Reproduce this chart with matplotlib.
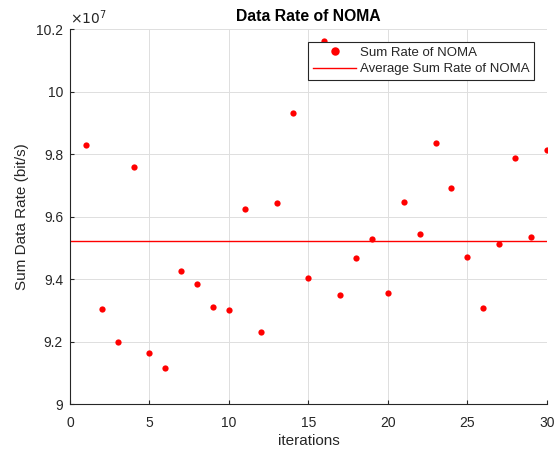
# Sum data rate of NOMA over iterations, with the average as a horizontal line

import numpy as np
import matplotlib.pyplot as plt
from matplotlib.ticker import FuncFormatter

plt.rcParams["font.family"] = ["Liberation Sans", "DejaVu Sans"]

# --- Data (values in units of 1e7 bit/s) ---
iterations = list(range(1, 31))
sum_rate = [9.829, 9.306, 9.199, 9.759, 9.165, 9.115, 9.426, 9.386, 9.310, 9.303,
            9.626, 9.230, 9.645, 9.932, 9.403, 10.163, 9.350, 9.469, 9.530, 9.357,
            9.648, 9.545, 9.835, 9.691, 9.472, 9.309, 9.513, 9.787, 9.536, 9.813]
avg_rate = np.mean(sum_rate)

x_ticks = [0, 5, 10, 15, 20, 25, 30]
y_ticks = [9, 9.2, 9.4, 9.6, 9.8, 10, 10.2]

txt = "#262626"

# --- Plot ---
fig = plt.figure(figsize=(5.58, 4.53), dpi=100)
ax = fig.add_axes([0.1254, 0.1075, 0.8546, 0.8278])

ax.plot(iterations, sum_rate, "o", color="red", markersize=4.5,
        markeredgewidth=0, label="Sum Rate of NOMA")
ax.axhline(avg_rate, color="red", lw=1.0, label="Average Sum Rate of NOMA")

ax.set_xlim(0, 30)
ax.set_ylim(9, 10.2)
ax.set_xticks(x_ticks)
ax.set_yticks(y_ticks)
ax.yaxis.set_major_formatter(FuncFormatter(lambda v, p: f"{v:g}"))

ax.grid(True, color="#dedede", lw=0.7)
ax.set_axisbelow(True)
for s in ["top", "right"]:
    ax.spines[s].set_visible(False)
for s in ["left", "bottom"]:
    ax.spines[s].set_color(txt)
    ax.spines[s].set_linewidth(0.8)
ax.tick_params(direction="in", length=3, width=0.8, colors=txt, labelsize=10,
               labelcolor=txt)
ax.tick_params(axis="x", pad=8.5)
ax.tick_params(axis="y", pad=5)

ax.text(0.0, 1.005, r"$\times10^{7}$", transform=ax.transAxes, ha="left",
        va="bottom", fontsize=10, color=txt)

ax.set_title("Data Rate of NOMA", fontsize=11.3, fontweight="bold", color="black", pad=6)
ax.set_xlabel("iterations", fontsize=11, color=txt, labelpad=3)
ax.set_ylabel("Sum Data Rate (bit/s)", fontsize=11, color=txt, labelpad=5)

leg = ax.legend(loc="upper right", bbox_to_anchor=(0.957, 0.908),
                bbox_transform=fig.transFigure, borderaxespad=0, fontsize=9.5,
                frameon=True, fancybox=False, framealpha=1, handlelength=3.3,
                handletextpad=0.25, borderpad=0.35, labelspacing=0.35,
                markerscale=1.35)
leg.get_frame().set_edgecolor(txt)
leg.get_frame().set_linewidth(0.8)
for t in leg.get_texts():
    t.set_color(txt)

fig.savefig("out.png", dpi=100)
